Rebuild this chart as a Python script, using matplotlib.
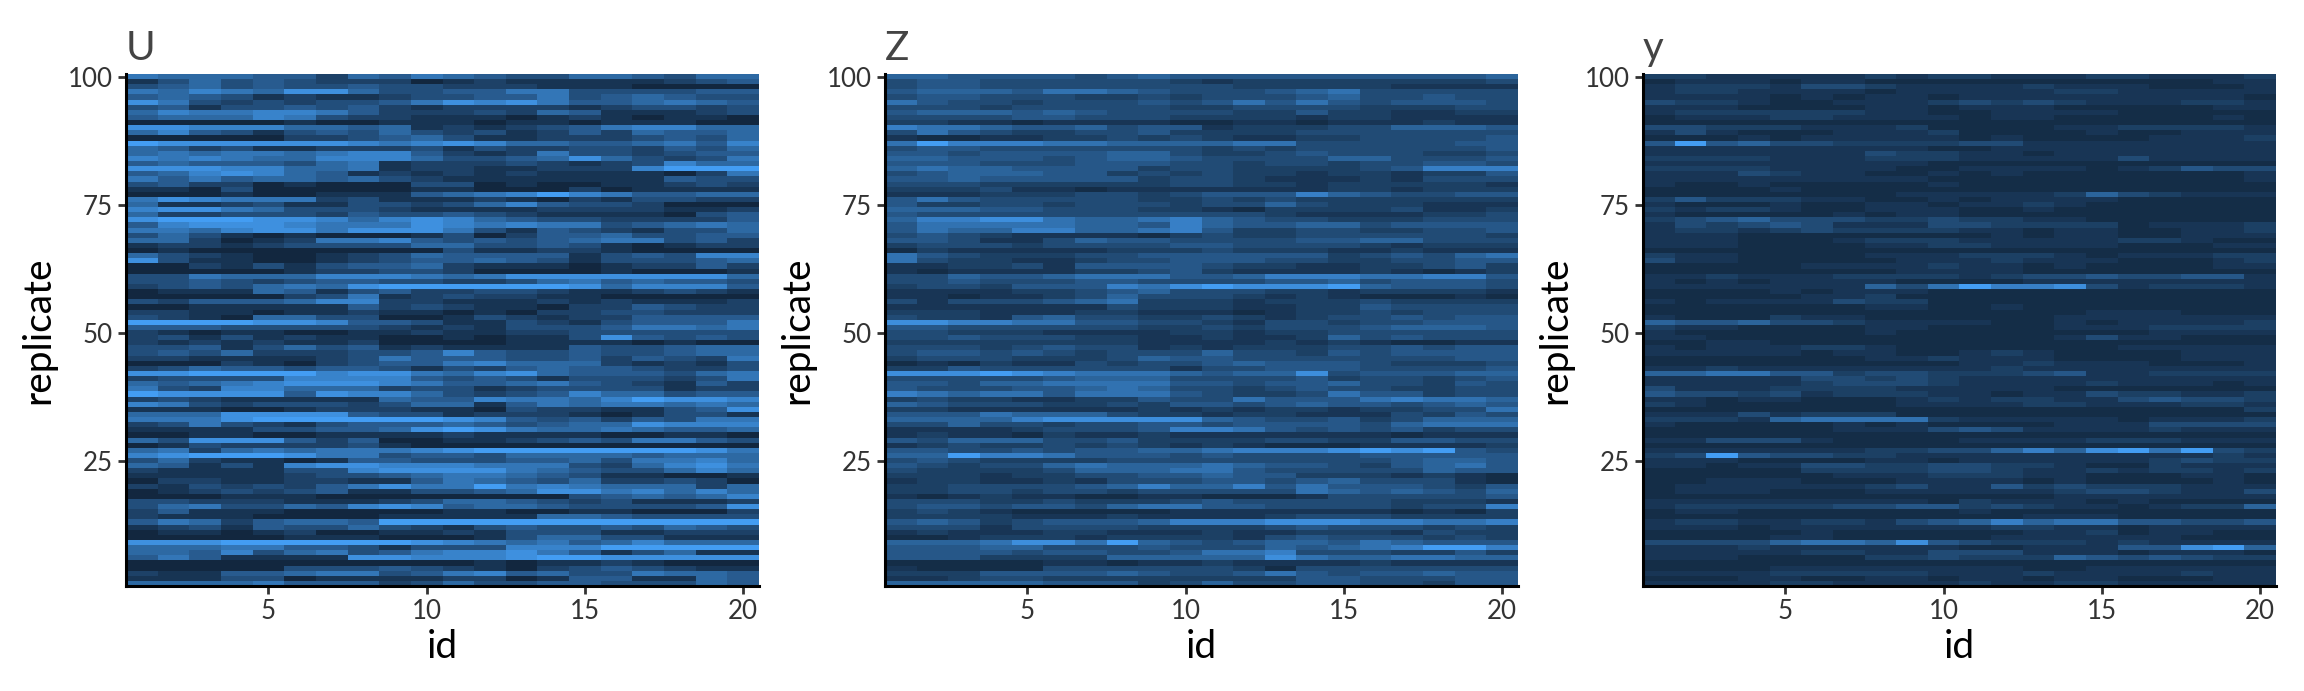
#!/usr/bin/env python3
import matplotlib
matplotlib.use('Agg')
import matplotlib.pyplot as plt
from matplotlib.colors import LinearSegmentedColormap, PowerNorm
import numpy as np

plt.rcParams['font.family'] = ['Lato', 'DejaVu Sans']

# brightness per cell, 0 dark .. 9 bright
# each string is one replicate, from 100 at the top down to 1, id 1..20
U_rows = [
    "65554 42546 54335 54355", "13534 32220 12111 11234", "34534 33433 22211 10000",
    "65765 88533 44663 33344", "45431 21123 34463 45433", "86323 23346 87864 45654",
    "34133 43421 22221 23323", "57667 76422 23254 11123", "45557 63221 11012 10110",
    "00000 10011 10110 11100", "88777 55451 21234 67755", "57431 34353 23124 25445",
    "00000 22345 31122 23435", "98888 88767 87554 45647", "54231 12223 13223 32435",
    "56566 56774 21263 32344", "76765 57775 33458 53236", "45444 35612 22321 23755",
    "88877 55612 21122 27999", "45787 54121 21211 11026", "64645 54532 11111 11433",
    "34220 10003 30100 11232", "11030 00001 10002 01111", "00010 01114 56797 64455",
    "68766 62311 12102 13322", "51123 11332 35743 32000", "78865 33321 11122 22112",
    "52233 32433 43211 11034", "89998 87578 75433 22224", "47888 76668 76766 34565",
    "66578 86888 63143 21335", "35310 10001 30244 53344", "55201 26674 34345 66342",
    "12212 33335 53343 10122", "01000 00000 31122 10000", "53210 01235 44441 34377",
    "83110 01234 45431 33345", "00213 13445 21110 12242", "00000 12233 20000 10001",
    "33655 57776 56888 88885", "33432 34433 22356 45443", "23435 65899 99998 57774",
    "01115 41342 23321 12321", "00000 23612 32211 00000", "32444 57722 11121 21112",
    "00111 11423 21102 24322", "22110 11211 01022 33222", "32105 53300 13212 24444",
    "99998 87443 11321 34446", "44433 33321 21333 46656", "21011 00112 11223 33333",
    "23131 21100 10113 84343", "21212 11200 00111 10100", "33413 53412 11114 33455",
    "34352 22334 74334 33455", "22111 12364 44334 24326", "00021 02344 67555 21213",
    "23544 34431 32454 43223", "88999 97886 57854 44356", "23333 77774 34313 33236",
    "54567 88876 44564 32142", "63277 55523 31233 33122", "98888 48775 32347 55344",
    "23211 11154 47665 79887", "76323 33235 51465 66565", "11100 12221 10322 11348",
    "55588 88433 12221 01331", "66689 99999 87434 24366", "23632 13444 54345 58777",
    "11113 34458 98655 65445", "00110 01111 21111 00110", "53888 42400 11234 36643",
    "01322 22310 00000 00000", "56256 56667 89999 99986", "78999 86634 43555 54555",
    "35211 01443 33445 36675", "54131 78877 76663 25786", "21111 33788 88654 33575",
    "11111 23345 66543 11001", "02211 22114 65435 22320", "21323 24686 69676 55525",
    "01232 34113 34588 67575", "00011 10000 00003 45457", "33222 11123 55432 31112",
    "35633 54787 45543 33348", "24111 00000 11001 10002", "21110 00011 11155 43333",
    "46524 55499 99999 99999", "12314 33532 13433 43543", "01101 20011 21333 11222",
    "00000 11100 01355 33111", "88899 99998 76564 57555", "55566 44313 33777 99999",
    "55473 56346 77864 13511", "46411 11887 77899 88888", "00000 00000 01011 21000",
    "00000 33343 21023 43211", "21144 56634 67453 36554", "11133 01111 22014 41154",
    "55556 44423 53344 33354",
]
Z_rows = [
    "55444 43454 44444 44445", "34433 33332 12222 22223", "34433 33333 32222 21111",
    "45554 66543 33456 33333", "34433 32232 33345 33433", "64332 33343 46464 34443",
    "33323 33332 23333 22233", "45554 54333 32242 21122", "33334 43332 22212 21111",
    "22110 11110 01101 11211", "76654 45344 12223 35554", "36432 23342 22233 33333",
    "10011 22323 21122 33334", "69777 66555 56633 33344", "34433 33333 23233 33334",
    "44344 44553 22343 33223", "55444 34554 33335 53334", "44433 34443 32332 33443",
    "56554 44423 32222 34777", "34555 44232 32212 21224", "44544 44423 32111 21333",
    "33322 22223 32212 22221", "22231 10111 11112 21222", "11122 23323 44475 43344",
    "46433 33322 32322 22222", "42233 23332 33532 22111", "55544 33322 10222 23112",
    "43333 33333 33211 11223", "57788 65567 54332 22333", "46666 65547 54455 34444",
    "46557 75567 42233 22334", "34321 11102 32233 33332", "44311 35443 33344 55333",
    "23332 33334 43333 21222", "02111 11222 32221 12111", "64322 23344 44442 34356",
    "63221 12334 44332 23344", "11223 14444 32211 22342", "10111 12234 21111 21012",
    "33544 56664 45777 66774", "33433 34433 33445 34443", "23324 44768 98889 54443",
    "11112 23453 33221 22221", "11011 23533 32121 00010", "31333 45622 21222 32222",
    "11111 11322 21122 43333", "22211 12211 10122 32333", "32214 53322 32123 34344",
    "88776 64433 21332 33444", "44333 33322 32333 45554", "33222 11112 21223 33333",
    "33433 32211 21125 34333", "22222 22211 11212 10011", "33323 43312 12223 34344",
    "34434 32333 53324 34444", "23332 22354 43333 33344", "01021 13233 45444 32223",
    "22433 33331 33444 33334", "88898 76665 45583 44455", "33333 45553 33342 33234",
    "44355 66664 43445 33243", "43334 45653 32343 32233", "76566 46664 32236 44233",
    "23221 12243 36444 67665", "54333 22324 43454 43454", "22111 11121 21221 22336",
    "44465 55322 12211 13243", "55557 88888 54334 23555", "33533 23344 34444 35666",
    "11112 33347 76434 34233", "12110 21121 11111 10111", "43555 33422 22332 24433",
    "12322 32321 21000 11112", "44334 34455 67778 98943", "55977 64443 43333 44444",
    "34322 22333 33333 34554", "43233 56555 65443 24564", "32222 35556 64333 33544",
    "22212 23344 54422 21210", "12211 21333 44345 33310", "22333 34575 57464 44324",
    "22332 33233 33365 45435", "10121 10011 00013 33334", "33322 32223 43333 32221",
    "34434 43566 44333 32337", "23210 00001 11111 10102", "22221 11211 11233 32222",
    "45423 44457 77888 77667", "33313 33322 22343 33232", "12111 22111 21122 21322",
    "00122 21222 21343 33232", "55568 86954 34554 65444", "44455 33343 33545 67997",
    "44443 44334 66733 32242", "44422 22555 55865 56655", "00000 11011 21111 21111",
    "10000 33333 32033 33333", "22244 44543 34643 44544", "11233 22222 22244 33344",
    "55555 44423 53344 33244",
]
y_rows = [
    "22111 11212 21112 21112", "01110 11000 00000 00011", "12221 33211 11211 10001",
    "12211 11011 11122 11111", "11110 10110 11111 11110", "32210 01112 32321 11221",
    "11100 00110 11100 00011", "12222 22110 01111 00000", "01112 21111 01100 00010",
    "00000 00000 00000 00000", "33222 11120 00011 22221", "13100 01112 00001 00111",
    "00010 11111 01000 01112", "49453 32222 33111 11111", "11111 11110 01111 11111",
    "11111 11322 11011 11111", "22221 11222 11111 31111", "11111 11110 00000 00000",
    "22221 11100 11110 12433", "11132 11001 01000 00001", "11111 11110 00000 00001",
    "10010 00001 00000 00000", "00001 00000 00000 00000", "00000 00011 11125 32111",
    "24222 11001 01111 00000", "10001 00110 11210 00000", "21221 00111 00100 00000",
    "10000 01011 00000 00000", "23453 33223 22110 00000", "13234 31113 32222 01112",
    "12212 32222 11011 00112", "11100 00000 01011 00111", "11100 01222 11111 22100",
    "11100 00112 21111 00011", "00000 00000 00000 00000", "21100 00111 22210 11122",
    "31100 00011 12111 00012", "00000 11112 11010 00011", "00000 00011 11000 00000",
    "11211 12222 12334 33441", "10101 11100 00111 11111", "11111 11536 97783 12221",
    "00001 01110 00000 00000", "00000 11200 00000 00000", "10111 13220 00000 00000",
    "00000 00110 01000 00000", "00000 00000 00001 11000", "10002 11000 00011 11111",
    "54453 32111 10010 11112", "21100 00110 00011 12222", "10000 00100 00000 01111",
    "11000 00000 00013 11000", "00110 00000 00000 00000", "10111 22100 00000 11111",
    "11111 01100 12100 00111", "00000 00112 11100 00111", "00000 00000 11211 10001",
    "11211 11111 12111 11111", "55664 42332 22341 12222", "11111 33232 11111 11111",
    "11111 23332 11112 11101", "31112 22211 11100 00000", "43323 12221 10113 22112",
    "11011 00012 12211 34332", "21000 00011 11221 11221", "00000 00000 00000 00002",
    "11131 22200 00000 00000", "22215 66662 11111 01112", "10000 01010 00011 13333",
    "00000 01113 43111 12111", "00000 00000 00000 00000", "11333 10000 11112 22111",
    "00000 00000 00000 00000", "11111 11223 35758 96932", "23943 32211 11111 11121",
    "11100 00110 11111 12322", "11011 33223 32210 02111", "00000 22223 32112 12212",
    "00000 01112 22110 00110", "00111 00011 11010 00010", "01111 11231 14232 22111",
    "01110 00111 11123 32113", "00000 00000 00011 11111", "11111 11110 21110 10000",
    "12222 23344 23211 01225", "01100 00000 10000 00000", "00000 00000 00111 00000",
    "12211 22134 57566 44334", "11101 11111 12211 01111", "00000 10000 00112 01100",
    "00001 10000 01111 11000", "33335 66584 32221 21111", "11121 11111 00111 44895",
    "11111 22113 33111 01110", "11100 00223 22254 34322", "00000 00000 00000 00000",
    "00001 11111 11001 11111", "11112 22221 11211 11211", "00011 00110 11011 00011",
    "11112 21111 21122 11111",
]
panel_names = ['U', 'Z', 'y']
id_ticks = [5, 10, 15, 20]
rep_ticks = [25, 50, 75, 100]
# axes edges in pixels of the 2304x691 picture
panel_left = [126, 885, 1643]
panel_width = 633
panel_top = 74
panel_bottom = 586


def to_grid(rows):
    """turn the digit strings into a 100x20 array, replicate 1 in row 0"""
    grid = [[int(c) for c in r.replace(' ', '')] for r in rows]
    return np.array(grid)[::-1]


def main():
    W, H = 2304, 691
    fig = plt.figure(figsize=(W / 200, H / 200), dpi=200)
    cmap = LinearSegmentedColormap.from_list('blues', ['#12273f', '#439df3'])
    ids = np.arange(1, 21)
    reps = np.arange(1, 101)
    # Z and y sit in a narrower, lighter band at the dark end than U
    norms = [PowerNorm(1.0, vmin=0, vmax=9),
             PowerNorm(1.3, vmin=-1, vmax=9),
             PowerNorm(1.3, vmin=-1, vmax=9)]
    for name, rows, left, norm in zip(panel_names, [U_rows, Z_rows, y_rows],
                                      panel_left, norms):
        ax = fig.add_axes([left / W, 1 - panel_bottom / H, panel_width / W,
                           (panel_bottom - panel_top) / H])
        ax.pcolormesh(ids, reps, to_grid(rows), cmap=cmap, norm=norm,
                      shading='nearest', linewidth=0, rasterized=True)
        ax.set_xlim(0.5, 20.5)
        ax.set_ylim(0.5, 100.5)
        ax.set_xticks(id_ticks)
        ax.set_yticks(rep_ticks)
        ax.tick_params(labelsize=9.3, length=2.8, width=1.0, color='#333333',
                       labelcolor='#333333', pad=2)
        ax.spines['top'].set_visible(False)
        ax.spines['right'].set_visible(False)
        ax.spines['left'].set_linewidth(1.1)
        ax.spines['bottom'].set_linewidth(1.1)
        ax.set_xlabel('id', fontsize=14, color='black', labelpad=1.5)
        ax.set_ylabel('replicate', fontsize=14, color='black', labelpad=4)
        ax.set_title(name, loc='left', fontsize=14.5, color='#444444', pad=5)
    fig.savefig('out.png', dpi=200)


if __name__ == '__main__':
    main()
